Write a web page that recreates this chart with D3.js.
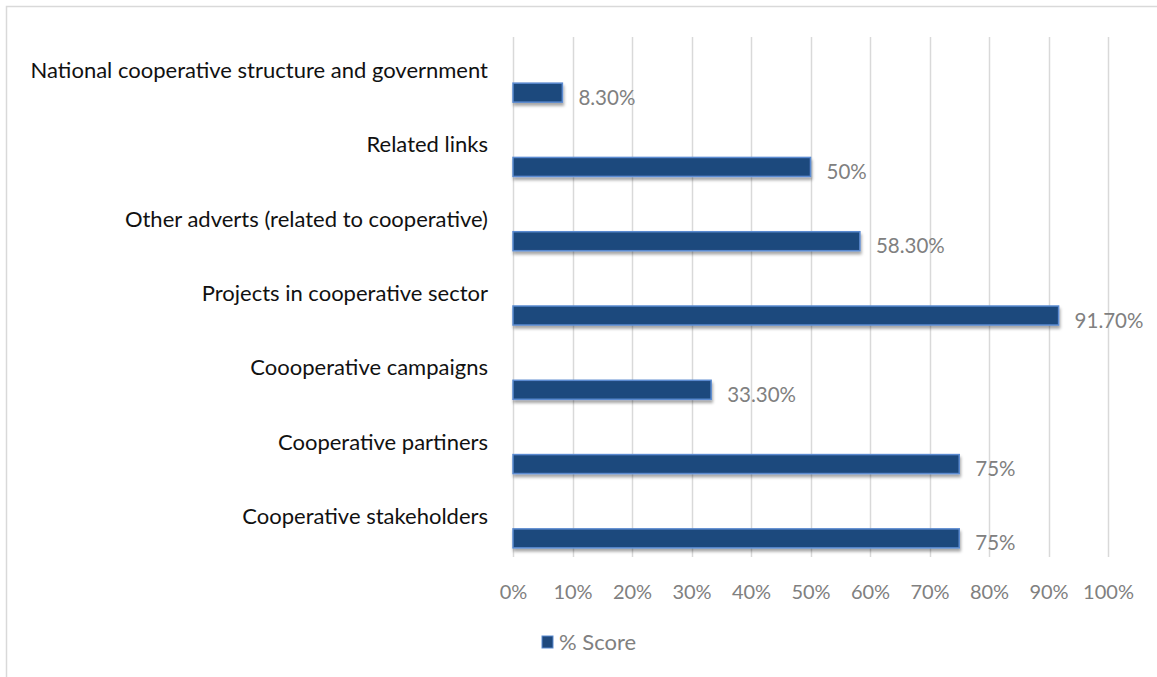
<!DOCTYPE html>
<html>
<head>
<meta charset="utf-8">
<script src="https://cdn.jsdelivr.net/npm/d3@7"></script>
<style>
  html, body { margin: 0; padding: 0; background: #fff; }
  svg { display: block; }
</style>
</head>
<body>
<svg id="chart" width="1157" height="677"></svg>
<script>
// Categories top to bottom and their % scores
const categories = [
  "National cooperative structure and government",
  "Related links",
  "Other adverts (related to cooperative)",
  "Projects in cooperative sector ",
  "Coooperative campaigns",
  "Cooperative partiners",
  "Cooperative stakeholders"
];
const scores = [8.3, 50, 58.3, 91.7, 33.3, 75, 75];
const scoreLabels = ["8.30%", "50%", "58.30%", "91.70%", "33.30%", "75%", "75%"];
const tickValues = [0, 10, 20, 30, 40, 50, 60, 70, 80, 90, 100];
const seriesName = "% Score";

const data = categories.map((c, i) => ({ cat: c, val: scores[i], label: scoreLabels[i] }));

const svg = d3.select("#chart");
const font = "Lato, 'Open Sans', sans-serif";

// Outer chart frame
svg.append("rect")
  .attr("x", 6.5).attr("y", 6.5)
  .attr("width", 1170).attr("height", 690)
  .attr("fill", "none").attr("stroke", "#d9d9d9").attr("stroke-width", 1.5);

const plot = { left: 513, right: 1108, top: 37, bottom: 557 };

const x = d3.scaleLinear().domain([0, 100]).range([plot.left, plot.right]);
const y = d3.scaleBand().domain(categories).range([plot.top, plot.bottom]);

// Drop shadow for bars
const defs = svg.append("defs");
const f = defs.append("filter").attr("id", "shadow")
  .attr("x", "-5%").attr("y", "-30%").attr("width", "115%").attr("height", "180%");
f.append("feDropShadow")
  .attr("dx", 1).attr("dy", 3).attr("stdDeviation", 1.6)
  .attr("flood-color", "#000").attr("flood-opacity", 0.35);

// Vertical gridlines
svg.append("g")
  .selectAll("line")
  .data(tickValues)
  .join("line")
  .attr("x1", d => Math.round(x(d)) + 0.5)
  .attr("x2", d => Math.round(x(d)) + 0.5)
  .attr("y1", plot.top).attr("y2", plot.bottom)
  .attr("stroke", "#d9d9d9").attr("stroke-width", 1.5);

// X axis tick labels
const xAxis = d3.axisBottom(x)
  .tickValues(tickValues)
  .tickFormat(d => d + "%")
  .tickSize(0)
  .tickPadding(0);
const gx = svg.append("g")
  .attr("transform", `translate(0, ${plot.bottom + 42})`)
  .call(xAxis);
gx.select(".domain").remove();
gx.selectAll("text")
  .attr("font-family", font)
  .attr("font-size", 20)
  .attr("fill", "#808080")
  .attr("dy", 0);

// Category labels, right aligned above each bar
svg.append("g")
  .selectAll("text")
  .data(data)
  .join("text")
  .attr("x", 488)
  .attr("y", d => y(d.cat) + y.bandwidth() / 2 + 4)
  .attr("text-anchor", "end")
  .attr("font-family", font)
  .attr("font-size", 22)
  .attr("fill", "#111")
  .text(d => d.cat);

const barH = 19;
const barOffset = 18.5;

// Bars
svg.append("g")
  .selectAll("rect")
  .data(data)
  .join("rect")
  .attr("x", x(0))
  .attr("y", d => y(d.cat) + y.bandwidth() / 2 + barOffset - barH / 2)
  .attr("width", d => x(d.val) - x(0))
  .attr("height", barH)
  .attr("fill", "#1f497d")
  .attr("stroke", "#5a8ad0")
  .attr("stroke-width", 1.5)
  .attr("filter", "url(#shadow)");

// Value labels
svg.append("g")
  .selectAll("text")
  .data(data)
  .join("text")
  .attr("x", d => x(d.val) + 16)
  .attr("y", d => y(d.cat) + y.bandwidth() / 2 + barOffset + 12)
  .attr("font-family", font)
  .attr("font-size", 20.5)
  .attr("fill", "#808080")
  .text(d => d.label);

// Legend
const lg = svg.append("g").attr("transform", "translate(542, 636)");
lg.append("rect")
  .attr("width", 11).attr("height", 12)
  .attr("fill", "#1f497d").attr("stroke", "#5a8ad0").attr("stroke-width", 1);
lg.append("text")
  .attr("x", 17).attr("y", 14)
  .attr("font-family", font)
  .attr("font-size", 22)
  .attr("fill", "#808080")
  .text(seriesName);
</script>
</body>
</html>
